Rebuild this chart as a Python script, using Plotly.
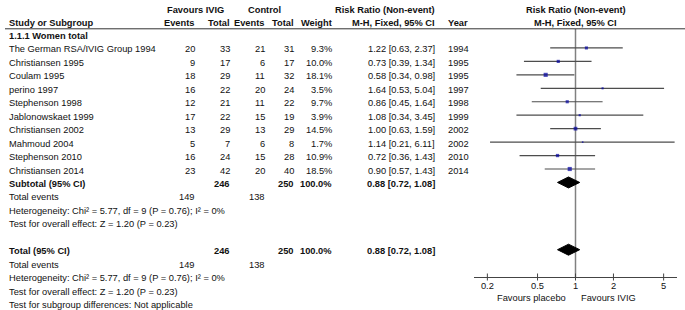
import plotly.graph_objects as go
import math

studies = ["The German RSA/IVIG Group 1994", "Christiansen 1995", "Coulam 1995", "perino 1997",
           "Stephenson 1998", "Jablonowskaet 1999", "Christiansen 2002", "Mahmoud 2004",
           "Stephenson 2010", "Christiansen 2014"]
ivig_events = [20, 9, 18, 16, 12, 17, 13, 5, 16, 23]
ivig_total = [33, 17, 29, 22, 21, 22, 29, 7, 24, 42]
ctrl_events = [21, 6, 11, 20, 11, 15, 13, 6, 15, 20]
ctrl_total = [31, 17, 32, 24, 22, 19, 29, 8, 28, 40]
weights = [9.3, 10.0, 18.1, 3.5, 9.7, 3.9, 14.5, 1.7, 10.9, 18.5]
rr = [1.22, 0.73, 0.58, 1.64, 0.86, 1.08, 1.00, 1.14, 0.72, 0.90]
ci_lo = [0.63, 0.39, 0.34, 0.53, 0.45, 0.34, 0.63, 0.21, 0.36, 0.57]
ci_hi = [2.37, 1.34, 0.98, 5.04, 1.64, 3.45, 1.59, 6.11, 1.43, 1.43]
years = [1994, 1995, 1995, 1997, 1998, 1999, 2002, 2002, 2010, 2014]

pooled = [0.72, 0.88, 1.08]
total_weight = 100.0
total_ivig = 246
total_ctrl = 250
events_ivig = 149
events_ctrl = 138
het_text = "Heterogeneity: Chi² = 5.77, df = 9 (P = 0.76); I² = 0%"
test_text = "Test for overall effect: Z = 1.20 (P = 0.23)"
subgroup_text = "Test for subgroup differences: Not applicable"
tick_vals = [0.2, 0.5, 1, 2, 5]
tick_labels = ["0.2", "0.5", "1", "2", "5"]

W, H = 685, 310
FONT = "Liberation Sans, Arial, sans-serif"
FS = 9.3
TXT = "#111111"
ROW0, DY = 34.5, 13.45

# column anchors (pixels)
LX = 7
C_IE, C_IT, C_CE, C_CT, C_W, C_CI, C_YR = 196.5, 231.5, 266.5, 295.5, 334, 437, 446


def ry(r):
    return ROW0 + DY * r


anns = []


def t(x, y, s, anchor="left", bold=False):
    anns.append(dict(x=x, y=y, xref="x", yref="y", text=("<b>%s</b>" % s) if bold else s,
                     showarrow=False, xanchor=anchor, yanchor="middle",
                     font=dict(family=FONT, size=FS, color=TXT)))


# headers
t(195, 9.5, "Favours IVIG", "center", True)
t(264, 9.5, "Control", "center", True)
t(C_CI, 9.5, "Risk Ratio (Non-event)", "right", True)
t(575.5, 9.5, "Risk Ratio (Non-event)", "center", True)
t(LX, 22.5, "Study or Subgroup", "left", True)
t(C_IE, 22.5, "Events", "right", True)
t(C_IT, 22.5, "Total", "right", True)
t(C_CE, 22.5, "Events", "right", True)
t(C_CT, 22.5, "Total", "right", True)
t(C_W, 22.5, "Weight", "right", True)
t(C_CI, 22.5, "M-H, Fixed, 95% CI", "right", True)
t(C_YR, 22.5, "Year", "left", True)
t(575.5, 22.5, "M-H, Fixed, 95% CI", "center", True)

t(LX, ry(0) + 1.5, "1.1.1 Women total", "left", True)
for i, s in enumerate(studies):
    y = ry(i + 1) + 1.5
    t(LX, y, s)
    t(C_IE, y, str(ivig_events[i]), "right")
    t(C_IT, y, str(ivig_total[i]), "right")
    t(C_CE, y, str(ctrl_events[i]), "right")
    t(C_CT, y, str(ctrl_total[i]), "right")
    t(C_W, y, "%.1f%%" % weights[i], "right")
    t(C_CI, y, "%.2f [%.2f, %.2f]" % (rr[i], ci_lo[i], ci_hi[i]), "right")
    t(C_YR, y, str(years[i]), "left")

pooled_txt = "%.2f [%.2f, %.2f]" % (pooled[1], pooled[0], pooled[2])
for base, label in [(11, "Subtotal (95% CI)"), (16, "Total (95% CI)")]:
    y = ry(base) + 1.5
    t(LX, y, label, "left", True)
    t(C_IT, y, str(total_ivig), "right", True)
    t(C_CT, y, str(total_ctrl), "right", True)
    t(C_W, y, "%.1f%%" % total_weight, "right", True)
    t(C_CI, y, pooled_txt, "right", True)
    t(LX, ry(base + 1) + 1.5, "Total events")
    t(C_IE, ry(base + 1) + 1.5, str(events_ivig), "right")
    t(C_CE, ry(base + 1) + 1.5, str(events_ctrl), "right")
    t(LX, ry(base + 2) + 1.5, het_text)
    t(LX, ry(base + 3) + 1.5, test_text)
t(LX, ry(20) + 1.5, subgroup_text)

AXIS_Y = 277
t(568, 298, "Favours placebo", "right")
t(579, 298, "Favours IVIG", "left")

fig = go.Figure()

# null line
fig.add_trace(go.Scatter(x=[1, 1], y=[29, AXIS_Y], mode="lines", xaxis="x2", yaxis="y",
                         line=dict(color="#808080", width=1.5), hoverinfo="skip"))
# CI lines
for i in range(len(studies)):
    y = ry(i + 1)
    fig.add_trace(go.Scatter(x=[ci_lo[i], ci_hi[i]], y=[y, y], mode="lines", xaxis="x2", yaxis="y",
                             line=dict(color="#4d4d4d", width=1.2), hoverinfo="skip"))
# squares
fig.add_trace(go.Scatter(x=rr, y=[ry(i + 1) for i in range(len(rr))], mode="markers",
                         xaxis="x2", yaxis="y", hoverinfo="skip",
                         marker=dict(symbol="square", color="#0000a0",
                                     size=[0.5 + 0.85 * math.sqrt(w) for w in weights], line=dict(width=0))))
# diamonds
for base in (11, 16):
    yc = ry(base)
    fig.add_trace(go.Scatter(x=[pooled[0], pooled[1], pooled[2], pooled[1], pooled[0]],
                             y=[yc, yc - 5.5, yc, yc + 5.5, yc], mode="lines", fill="toself",
                             fillcolor="black", line=dict(color="black", width=1),
                             xaxis="x2", yaxis="y", hoverinfo="skip"))
# tick marks crossing the axis
tx, ty = [], []
for v in tick_vals:
    tx += [v, v, None]
    ty += [AXIS_Y - 3.5, AXIS_Y + 3.5, None]
fig.add_trace(go.Scatter(x=tx, y=ty, mode="lines", xaxis="x2", yaxis="y",
                         line=dict(color="#444444", width=1), hoverinfo="skip"))

fig.update_layout(
    width=W, height=H, margin=dict(l=0, r=0, t=0, b=0),
    paper_bgcolor="white", plot_bgcolor="rgba(0,0,0,0)", showlegend=False,
    xaxis=dict(range=[0, W], visible=False, domain=[0, 1], fixedrange=True),
    yaxis=dict(range=[H, 0], visible=False, domain=[0, 1], fixedrange=True),
    xaxis2=dict(type="log", range=[-0.805, 0.805], domain=[474 / W, 677 / W],
                anchor="free", position=(H - AXIS_Y) / H,
                showline=True, linecolor="#444444", linewidth=1, showgrid=False, zeroline=False,
                ticks="", tickvals=tick_vals, ticktext=tick_labels, fixedrange=True,
                tickfont=dict(family=FONT, size=FS, color=TXT)),
    annotations=anns,
    shapes=[dict(type="line", xref="x", yref="y", x0=5, x1=W, y0=28.8, y1=28.8,
                 line=dict(color="#333333", width=1))],
)

# remove the browser's default 8px body margin so the figure fills the window exactly
fig.write_html("out.html", config={"displayModeBar": False},
               post_script="document.body.style.margin='0px';document.body.style.overflow='hidden';")
